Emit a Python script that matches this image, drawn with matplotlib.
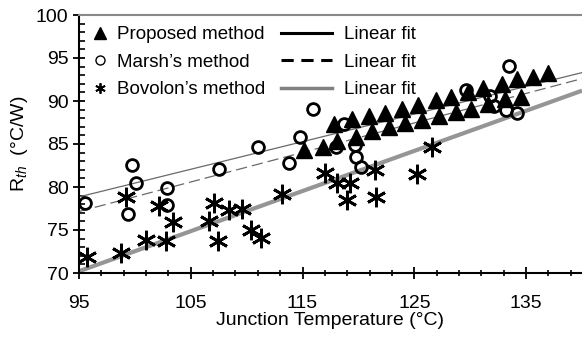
import matplotlib
matplotlib.use("Agg")
import matplotlib.pyplot as plt
from matplotlib.lines import Line2D
import numpy as np

plt.rcParams['font.family'] = ['Liberation Sans', 'DejaVu Sans']
plt.rcParams['mathtext.fontset'] = 'custom'
plt.rcParams['mathtext.rm'] = 'Liberation Sans'
plt.rcParams['mathtext.it'] = 'Liberation Sans:italic'

# Proposed method (triangles)
prop_T = [115.1, 116.8, 117.8, 118.1, 119.4, 119.75, 120.9, 121.2, 122.4, 122.7,
          123.9, 124.2, 125.3, 125.65, 126.9, 127.2, 128.3, 128.7, 129.8, 130.1,
          131.1, 131.6, 132.8, 133.1, 134.2, 134.5, 135.6, 137.0]
prop_R = [84.3, 84.7, 87.3, 85.3, 87.85, 85.8, 88.2, 86.5, 88.55, 87.0,
          89.1, 87.4, 89.5, 87.8, 90.1, 88.3, 90.5, 88.7, 91.1, 89.1,
          91.5, 89.6, 92.0, 90.2, 92.55, 90.5, 92.8, 93.2]

# Marsh's method (open circles)
marsh_T = [95.5, 99.4, 99.75, 100.1, 102.9, 102.9, 107.5, 111.0, 113.75, 114.8,
           115.9, 118.0, 118.7, 119.65, 119.8, 120.2, 129.6, 131.8, 132.1, 133.2,
           133.5, 134.2]
marsh_R = [78.1, 76.9, 82.6, 80.5, 79.9, 77.9, 82.1, 84.7, 82.8, 85.8,
           89.1, 84.7, 87.3, 84.9, 83.5, 82.3, 91.3, 90.6, 89.4, 89.0,
           94.1, 88.6]

# Bovolon's method (asterisks)
bov_T = [95.7, 98.8, 99.2, 101.0, 102.2, 102.8, 103.4, 106.6, 107.1, 107.4,
         108.4, 109.6, 110.4, 111.3, 113.2, 117.0, 118.1, 119.2, 119.0, 121.5,
         121.6, 125.2, 126.6]
bov_R = [71.9, 72.3, 78.85, 73.8, 77.8, 73.7, 75.9, 76.05, 78.1, 73.7,
         77.3, 77.5, 75.05, 74.1, 79.2, 81.6, 80.5, 80.5, 78.5, 82.0,
         78.85, 81.5, 84.7]

# Linear fits: value at T = 95 and T = 140
fit_T = [95, 140]
fit_prop = [78.85, 93.3]
fit_marsh = [77.15, 92.6]
fit_bov = [70.2, 91.2]

x_ticks = [95, 105, 115, 125, 135]
y_ticks = [70, 75, 80, 85, 90, 95, 100]

fig = plt.figure(figsize=(5.82, 3.41), dpi=100)
ax = fig.add_axes([79/582, 1 - 273/341, 1 - 79/582, (273 - 15)/341])

ax.plot(fit_T, fit_bov, color='#959595', lw=3.0, solid_capstyle='butt', zorder=2)
ax.plot(fit_T, fit_marsh, color='#6a6a6a', lw=0.9, dashes=(9, 4), zorder=2)
ax.plot(fit_T, fit_prop, color='#6a6a6a', lw=0.9, zorder=2)

ax.plot(prop_T, prop_R, linestyle='none', marker='^', ms=11, color='black', zorder=3)
ax.plot(marsh_T, marsh_R, linestyle='none', marker='o', ms=8.5, mfc='none',
        mec='black', mew=2.0, zorder=4)
ax.plot(bov_T, bov_R, linestyle='none', marker=(6, 2, 0), ms=14, color='black',
        mew=2.0, zorder=3)

ax.set_xlim(95, 140)
ax.set_ylim(70, 100)
ax.set_xticks(x_ticks)
ax.set_yticks(y_ticks)
ax.set_xticks(np.arange(95, 141, 2), minor=True)
ax.set_yticks(np.arange(70, 101, 1), minor=True)
ax.tick_params(axis='both', which='major', direction='inout', length=9, width=1.3,
               labelsize=14, colors='black')
ax.tick_params(axis='x', which='major', pad=11)
ax.tick_params(axis='y', which='major', pad=3)
ax.tick_params(axis='x', which='minor', direction='inout', length=5, width=1.2)
ax.tick_params(axis='y', which='minor', direction='in', length=4, width=1.2)

ax.spines['right'].set_visible(False)
ax.spines['top'].set_color('#888888')
ax.spines['top'].set_linewidth(1.5)
for s in ('left', 'bottom'):
    ax.spines[s].set_linewidth(1.5)
    ax.spines[s].set_color('black')

ax.set_xlabel('Junction Temperature (°C)', fontsize=14, labelpad=0)
ax.set_ylabel(r'R$_{th}$  (°C/W)', fontsize=14, labelpad=4)

h1 = [Line2D([], [], linestyle='none', marker='^', ms=8.5, color='black'),
      Line2D([], [], linestyle='none', marker='o', ms=6.5, mfc='none', mec='black', mew=1.0),
      Line2D([], [], linestyle='none', marker=(6, 2, 0), ms=7.5, color='black', mew=1.3)]
l1 = ["Proposed method", "Marsh’s method", "Bovolon’s method"]
leg1 = ax.legend(h1, l1, loc='upper left', bbox_to_anchor=(0.0, 1.0), frameon=False,
                 fontsize=13.5, handlelength=1.05, handletextpad=0.4, labelspacing=0.55,
                 borderaxespad=0.15, borderpad=0.45)
ax.add_artist(leg1)
h2 = [Line2D([], [], color='black', lw=2.2),
      Line2D([], [], color='black', lw=2.2, dashes=(4, 2.5)),
      Line2D([], [], color='#808080', lw=2.5)]
l2 = ["Linear fit", "Linear fit", "Linear fit"]
ax.legend(h2, l2, loc='upper left', bbox_to_anchor=(0.380, 1.0), frameon=False,
          fontsize=13.5, handlelength=2.7, handletextpad=0.65, labelspacing=0.55,
          borderaxespad=0.15, borderpad=0.45)

fig.savefig('out.png', dpi=100)
